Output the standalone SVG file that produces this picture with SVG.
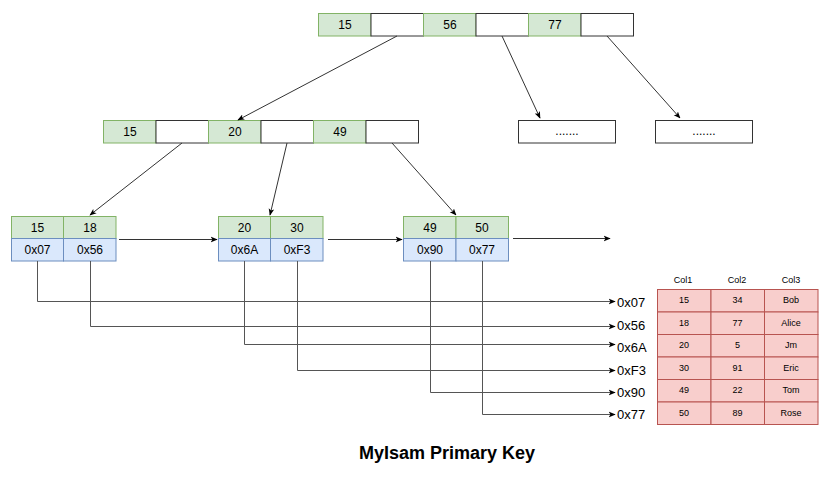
<svg xmlns="http://www.w3.org/2000/svg" width="830" height="481" viewBox="0 0 830 481">
<defs>
<style>
.g{fill:#d5e8d4;stroke:#82b366;stroke-width:1}
.w{fill:#ffffff;stroke:#333333;stroke-width:1}
.b{fill:#dae8fc;stroke:#6c8ebf;stroke-width:1}
.r{fill:#f8cecc;stroke:#b85450;stroke-width:1}
.t{font-family:"Liberation Sans",Arial,sans-serif;font-size:12px;fill:#000;text-anchor:middle;dominant-baseline:central}
.s{font-family:"Liberation Sans",Arial,sans-serif;font-size:9px;fill:#000;text-anchor:middle;dominant-baseline:central}
.p{font-family:"Liberation Sans",Arial,sans-serif;font-size:13px;fill:#000;dominant-baseline:central}
.c{fill:none;stroke:#333333;stroke-width:1}
.q{fill:none;stroke:#555555;stroke-width:1}
</style>
<marker id="a" viewBox="0 0 10 10" refX="9" refY="5" markerWidth="7" markerHeight="7" orient="auto" markerUnits="userSpaceOnUse">
<path d="M0,1 L10,5 L0,9 L2.5,5 Z" fill="#000"/>
</marker>
</defs>

<g id="root">
<rect class="g" x="318.5" y="13.5" width="52.5" height="22.5"/><text class="t" x="345" y="25">15</text>
<rect class="w" x="371" y="13.5" width="52.5" height="22.5"/>
<rect class="g" x="423.5" y="13.5" width="52.5" height="22.5"/><text class="t" x="450" y="25">56</text>
<rect class="w" x="476" y="13.5" width="52.5" height="22.5"/>
<rect class="g" x="528.5" y="13.5" width="52.5" height="22.5"/><text class="t" x="555" y="25">77</text>
<rect class="w" x="581" y="13.5" width="52.5" height="22.5"/>
</g>

<g id="mid">
<rect class="g" x="103.5" y="120.5" width="52.5" height="22.5"/><text class="t" x="130" y="132">15</text>
<rect class="w" x="156" y="120.5" width="52.5" height="22.5"/>
<rect class="g" x="208.5" y="120.5" width="52.5" height="22.5"/><text class="t" x="235" y="132">20</text>
<rect class="w" x="261" y="120.5" width="52.5" height="22.5"/>
<rect class="g" x="313.5" y="120.5" width="52.5" height="22.5"/><text class="t" x="340" y="132">49</text>
<rect class="w" x="366" y="120.5" width="52.5" height="22.5"/>
</g>

<g id="dots1">
<rect class="w" x="518.5" y="120.5" width="97" height="22.5"/><text class="t" x="567" y="131">.......</text>
</g>
<g id="dots2">
<rect class="w" x="655.5" y="120.5" width="97" height="22.5"/><text class="t" x="704" y="131">.......</text>
</g>

<g id="leaf1">
<rect class="g" x="11.5" y="216.5" width="52" height="22"/><text class="t" x="37.5" y="227.5">15</text>
<rect class="g" x="63.5" y="216.5" width="52.5" height="22"/><text class="t" x="90" y="227.5">18</text>
<rect class="b" x="11.5" y="238.5" width="52" height="22.5"/><text class="t" x="37.5" y="250">0x07</text>
<rect class="b" x="63.5" y="238.5" width="52.5" height="22.5"/><text class="t" x="90" y="250">0x56</text>
</g>
<g id="leaf2">
<rect class="g" x="218.5" y="216.5" width="52" height="22"/><text class="t" x="244.5" y="227.5">20</text>
<rect class="g" x="270.5" y="216.5" width="52.5" height="22"/><text class="t" x="297" y="227.5">30</text>
<rect class="b" x="218.5" y="238.5" width="52" height="22.5"/><text class="t" x="244.5" y="250">0x6A</text>
<rect class="b" x="270.5" y="238.5" width="52.5" height="22.5"/><text class="t" x="297" y="250">0xF3</text>
</g>
<g id="leaf3">
<rect class="g" x="403.5" y="216.5" width="52.5" height="22"/><text class="t" x="430" y="227.5">49</text>
<rect class="g" x="456" y="216.5" width="52.5" height="22"/><text class="t" x="482" y="227.5">50</text>
<rect class="b" x="403.5" y="238.5" width="52.5" height="22.5"/><text class="t" x="430" y="250">0x90</text>
<rect class="b" x="456" y="238.5" width="52.5" height="22.5"/><text class="t" x="482" y="250">0x77</text>
</g>

<g id="table">
<text class="s" x="683" y="280">Col1</text>
<text class="s" x="737" y="280">Col2</text>
<text class="s" x="791" y="280">Col3</text>
<rect class="r" x="657.5" y="289.5" width="53.5" height="22.5"/><rect class="r" x="711" y="289.5" width="53.5" height="22.5"/><rect class="r" x="764.5" y="289.5" width="53.5" height="22.5"/>
<text class="s" x="684" y="300">15</text><text class="s" x="737.5" y="300">34</text><text class="s" x="791" y="300">Bob</text>
<rect class="r" x="657.5" y="312" width="53.5" height="22.5"/><rect class="r" x="711" y="312" width="53.5" height="22.5"/><rect class="r" x="764.5" y="312" width="53.5" height="22.5"/>
<text class="s" x="684" y="322.5">18</text><text class="s" x="737.5" y="322.5">77</text><text class="s" x="791" y="322.5">Alice</text>
<rect class="r" x="657.5" y="334.5" width="53.5" height="22.5"/><rect class="r" x="711" y="334.5" width="53.5" height="22.5"/><rect class="r" x="764.5" y="334.5" width="53.5" height="22.5"/>
<text class="s" x="684" y="345">20</text><text class="s" x="737.5" y="345">5</text><text class="s" x="791" y="345">Jm</text>
<rect class="r" x="657.5" y="357" width="53.5" height="22.5"/><rect class="r" x="711" y="357" width="53.5" height="22.5"/><rect class="r" x="764.5" y="357" width="53.5" height="22.5"/>
<text class="s" x="684" y="367.5">30</text><text class="s" x="737.5" y="367.5">91</text><text class="s" x="791" y="367.5">Eric</text>
<rect class="r" x="657.5" y="379.5" width="53.5" height="22.5"/><rect class="r" x="711" y="379.5" width="53.5" height="22.5"/><rect class="r" x="764.5" y="379.5" width="53.5" height="22.5"/>
<text class="s" x="684" y="390">49</text><text class="s" x="737.5" y="390">22</text><text class="s" x="791" y="390">Tom</text>
<rect class="r" x="657.5" y="402" width="53.5" height="22.5"/><rect class="r" x="711" y="402" width="53.5" height="22.5"/><rect class="r" x="764.5" y="402" width="53.5" height="22.5"/>
<text class="s" x="684" y="412.5">50</text><text class="s" x="737.5" y="412.5">89</text><text class="s" x="791" y="412.5">Rose</text>
</g>

<g id="labels">
<text class="p" x="617" y="302">0x07</text>
<text class="p" x="617" y="325">0x56</text>
<text class="p" x="617" y="347">0x6A</text>
<text class="p" x="617" y="370">0xF3</text>
<text class="p" x="617" y="392">0x90</text>
<text class="p" x="617" y="414">0x77</text>
</g>

<g id="connectors">
<line class="c" x1="397" y1="36" x2="238" y2="120" marker-end="url(#a)"/>
<line class="c" x1="502" y1="36" x2="540" y2="118" marker-end="url(#a)"/>
<line class="c" x1="607" y1="36" x2="680" y2="118" marker-end="url(#a)"/>
<line class="c" x1="182" y1="143" x2="90" y2="215" marker-end="url(#a)"/>
<line class="c" x1="287" y1="143" x2="270" y2="215" marker-end="url(#a)"/>
<line class="c" x1="392" y1="143" x2="456" y2="215" marker-end="url(#a)"/>
<line class="c" x1="119" y1="239.5" x2="217" y2="239.5" marker-end="url(#a)"/>
<line class="c" x1="328" y1="239.5" x2="402" y2="239.5" marker-end="url(#a)"/>
<line class="c" x1="513" y1="238.5" x2="610" y2="238.5" marker-end="url(#a)"/>
<polyline class="q" points="37.5,261 37.5,301.5 615,301.5" marker-end="url(#a)"/>
<polyline class="q" points="90.5,261 90.5,326.5 615,326.5" marker-end="url(#a)"/>
<polyline class="q" points="244.5,261 244.5,344.5 615,344.5" marker-end="url(#a)"/>
<polyline class="q" points="297.5,261 297.5,370.5 615,370.5" marker-end="url(#a)"/>
<polyline class="q" points="430.5,261 430.5,392.5 615,392.5" marker-end="url(#a)"/>
<polyline class="q" points="482.5,261 482.5,414.5 615,414.5" marker-end="url(#a)"/>
</g>

<text x="447" y="453" style="font-family:'Liberation Sans',Arial,sans-serif;font-size:18px;font-weight:bold;fill:#000;text-anchor:middle;dominant-baseline:central">MyIsam Primary Key</text>
</svg>
